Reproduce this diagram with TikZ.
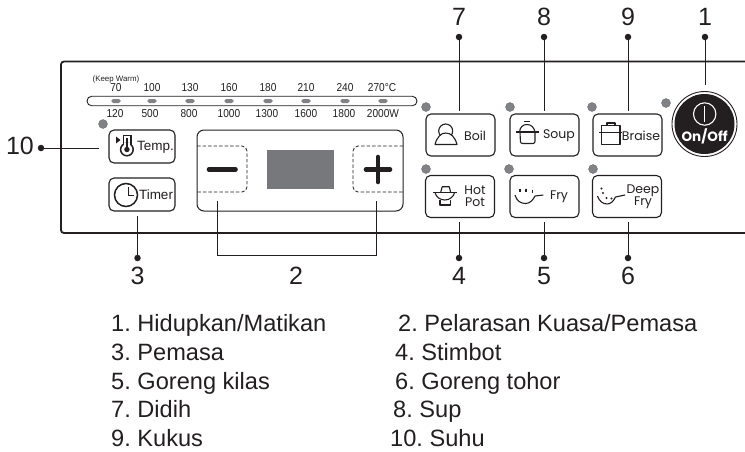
\documentclass[tikz,border=0pt]{standalone}
\usepackage{fontspec}
\setmainfont{Liberation Sans}
\newfontfamily\btnfont{Poppins}
\newfontfamily\tickfont[FakeStretch=0.88]{Liberation Sans}
\usepackage{xcolor}
\usetikzlibrary{calc}
\definecolor{inkk}{HTML}{231F20}
\definecolor{ledgray}{HTML}{808285}
\definecolor{dispgray}{HTML}{77787B}
\frenchspacing

\begin{document}
\begin{tikzpicture}[x=1pt, y=-1pt, inkk, every node/.style={inner sep=0pt, text=inkk},
    btn/.style={draw=inkk, rounded corners=5pt, line width=1.1pt, minimum width=69pt, minimum height=42pt},
    led/.style={circle, fill=ledgray, draw=ledgray!80!black, line width=0.3pt, minimum size=9pt},
    pill/.style={fill=ledgray, rounded corners=1.9pt, minimum width=9.5pt, minimum height=4pt},
    leaderdot/.style={circle, fill=inkk, minimum size=6.5pt},
    callout/.style={font=\fontsize{25}{25}\selectfont},
    tick/.style={font=\tickfont\fontsize{11.5}{12}\selectfont},
    btnlab/.style={font=\btnfont\fontsize{12.5}{12.5}\selectfont},
    icon/.style={line width=1.1pt, line join=round},
    listitem/.style={anchor=base west, font=\fontsize{23.6}{24}\selectfont}]
    \useasboundingbox (0,0) rectangle (745,451);

    % panel outline
    \draw[line width=1.8pt, rounded corners=3pt] (745,61.5) -- (61,61.5) -- (61,233) -- (745,233);

    % scale strip
    \node[draw=inkk, line width=0.9pt, rounded corners=4.7pt, minimum width=330pt, minimum height=9.5pt] (band) at (252,101) {};
    \node[font=\fontsize{7.9}{8}\selectfont] (keepwarm) at (116,79) {(Keep Warm)};
    \foreach \x/\lab in {116/70,152/100,190/130,229/160,268/180,306/210,345/240,382/270°C}{
      \node[tick] (temp\x) at (\x,88) {\lab};
    }
    \foreach \x in {116,152,190,229,268,306,345,383}{
      \node[pill] (pill\x) at (\x,101) {};
    }
    \foreach \x/\lab in {115/120,150/500,189/800,229/1000,267/1300,306/1600,344/1800,383/2000W}{
      \node[tick] (watt\x) at (\x,114) {\lab};
    }

    % indicator lamps
    \foreach \x/\y in {103/124,426/107,510/107,592/107,666/103,426/169,509/169,593/169}{
      \node[led] (led\x\y) at (\x,\y) {};
    }

    % left buttons
    \node[btn, minimum width=66pt, minimum height=33pt] (tempbtn) at (142,146.5) {};
    \node[btn, minimum width=66pt, minimum height=33pt] (timerbtn) at (142,194.5) {};
    \node[font=\fontsize{13.5}{13.5}\selectfont] (templab) at (155.5,147) {Temp.};
    \node[font=\fontsize{13.5}{13.5}\selectfont] (timerlab) at (156,195) {Timer};
    \draw[line width=1.5pt] (123.3,144.5) -- (123.3,135.7) -- (131,135.7) -- (131,144.5);
    \draw[line width=1.5pt] (126.9,149.5) circle[radius=6.3];
    \fill[white] (124,143) rectangle (130.3,146);
    \fill (126.9,149.5) circle[radius=2.7];
    \draw[line width=1.2pt] (126.9,138) -- (126.9,149);
    \fill (116,136.5) -- (120.5,140) -- (116,143.5) -- cycle;
    \draw[line width=1.5pt] (126,195) circle[radius=11.5];
    \draw[line width=1.5pt] (128.3,187.3) -- (128.3,195.3) -- (133.5,195.3);

    % power window
    \node[draw=inkk, line width=1pt, rounded corners=7pt, minimum width=206pt, minimum height=81pt] (slider) at (300,170.5) {};
    \draw[dashed, dash pattern=on 3.5pt off 2pt, line width=0.8pt, rounded corners=5pt] (197,146) -- (247,146) -- (247,192) -- (197,192);
    \draw[dashed, dash pattern=on 3.5pt off 2pt, line width=0.8pt, rounded corners=5pt] (403,146) -- (353,146) -- (353,192) -- (403,192);
    \fill[dispgray] (267,150) rectangle (334,189);
    \draw[line width=4.6pt, line cap=round] (209,169.5) -- (235.5,169.5);
    \draw[line width=4.6pt, line cap=round] (366,169.5) -- (390,169.5);
    \draw[line width=4.6pt, line cap=round] (378,157) -- (378,182);

    % function buttons
    \foreach \name/\x/\y in {boil/460.5/135,soup/544.5/135,braise/627.5/135,hotpot/460/196.5,fry/544.5/196.5,deepfry/627/196.5}{
      \node[btn] (\name) at (\x,\y) {};
    }
    \node[btnlab] (boillab) at (475,136) {Boil};
    \node[btnlab] (souplab) at (559,136) {Soup};
    \node[btnlab] (braiselab) at (641,136) {Braise};
    \node[btnlab, align=center, font=\btnfont\fontsize{12.5}{12}\selectfont] (hotpotlab) at (475,196.5) {Hot\\Pot};
    \node[btnlab] (frylab) at (559,196.5) {Fry};
    \node[btnlab, align=center, font=\btnfont\fontsize{12.5}{12}\selectfont] (deepfrylab) at (643,196.5) {Deep\\Fry};

    % kettle
    \draw[icon] (445.7,131) circle[radius=7];
    \draw[icon, fill=white] (435,144.5) .. controls (437,137) and (441,133) .. (445.7,133) .. controls (451,133) and (455,137) .. (457,144.5) -- cycle;
    % soup pot
    \draw[icon] (524,121.5) -- (529.5,121.5);
    \draw[icon] (516,132) -- (538.7,132);
    \draw[icon] (519.5,132) .. controls (520,127) and (523,124.5) .. (526.8,124.5) .. controls (531,124.5) and (534,127) .. (535,132);
    \draw[icon, rounded corners=2pt] (520,132) -- (520.5,143.5) -- (535,143.5) -- (535,132);
    % braising pot
    \draw[icon] (607,125.7) -- (607,123) -- (615,123) -- (615,125.7);
    \draw[icon] (599,132.7) -- (621.7,132.7);
    \draw[icon] (601.7,125.7) rectangle (620,144.3);
    % hot pot
    \draw[icon] (433,192.3) -- (456.7,192.3);
    \draw[icon] (440.7,192.3) -- (442.2,186.7) -- (449.2,186.7) -- (450.7,192.3);
    \draw[icon] (435,192.3) .. controls (436,197) and (440,200) .. (444.8,200) .. controls (449.5,200) and (453.5,197) .. (454.7,192.3);
    \draw[icon] (440,200) -- (440,205) -- (450.7,205) -- (450.7,200);
    % fry pan
    \draw[icon] (515,195) .. controls (516.5,201) and (521,203.5) .. (525.5,203.5) .. controls (530,203.5) and (533,200) .. (535,196) -- (543.3,195);
    \draw[icon] (520,188.5) -- (520,191.5) (526,188.5) -- (526,191.5) (532.5,189.5) -- (532.5,192.5);
    % deep fry pan
    \draw[icon] (597.5,196) .. controls (599,201) and (603,204) .. (607,204) .. controls (611,204) and (613.5,201) .. (615.5,197) -- (625,195);
    \foreach \x/\y in {601.5/188.5,603/193,606.5/198,611.5/198.5}{
      \fill (\x,\y) circle[radius=1.2];
    }

    % on/off button
    \node[circle, draw=inkk, line width=0.9pt, minimum size=65pt] (onoff) at (704.5,124) {};
    \fill[inkk] (onoff) circle[radius=30];
    \draw[white, line width=1.1pt] (704.7,114) circle[radius=11.2];
    \draw[white, line width=1.2pt] (704.7,106) -- (704.7,121.7);
    \node[text=white, font=\btnfont\bfseries\fontsize{13.5}{13.5}\selectfont] (onofflab) at (704.7,136) {On/Off};

    % callouts
    \foreach \name/\x/\lab/\target/\gap in {dotseven/459/7/boil/2,doteight/544/8/soup/2,dotnine/628/9/braise/2,dotone/705/1/onoff/6}{
      \node[leaderdot] (\name) at (\x,37) {};
      \node[callout] (lab\name) at (\x,17) {\lab};
      \draw[line width=1pt, shorten >=\gap pt] (\name) -- (\name |- \target.north);
    }
    \foreach \name/\x/\lab/\target in {dotfour/459/4/hotpot,dotfive/544/5/fry,dotsix/628/6/deepfry,dotthree/137.5/3/timerbtn}{
      \node[leaderdot] (\name) at (\x,258) {};
      \node[callout] (lab\name) at (\x,276) {\lab};
      \draw[line width=1pt, shorten >=4pt] (\name) -- (\name |- \target.south);
    }
    \node[leaderdot] (dotten) at (41,148) {};
    \node[callout] (labdotten) at (20,146) {10};
    \draw[line width=1pt, shorten >=9pt] (dotten) -- (dotten -| tempbtn.west);
    \coordinate (bracketl) at (217,201);
    \coordinate (bracketr) at (376,201);
    \node[callout] (labtwo) at (296,276) {2};
    \draw[line width=1pt] (bracketl) -- ++(0,54) -| (bracketr);

    % legend
    \foreach \i/\y/\lab/\xb/\labb in {a/331.5/1. Hidupkan\slash Matikan/398/2. Pelarasan Kuasa\slash Pemasa,b/360/3. Pemasa/395/4. Stimbot,c/389/5. Goreng kilas/395/6. Goreng tohor,d/417.5/7. Didih/393/8. Sup,e/446/9. Kukus/390/10. Suhu}{
      \node[listitem] (legl\i) at (111,\y) {\lab};
      \node[listitem] (legr\i) at (\xb,\y) {\labb};
    }
\end{tikzpicture}
\end{document}
